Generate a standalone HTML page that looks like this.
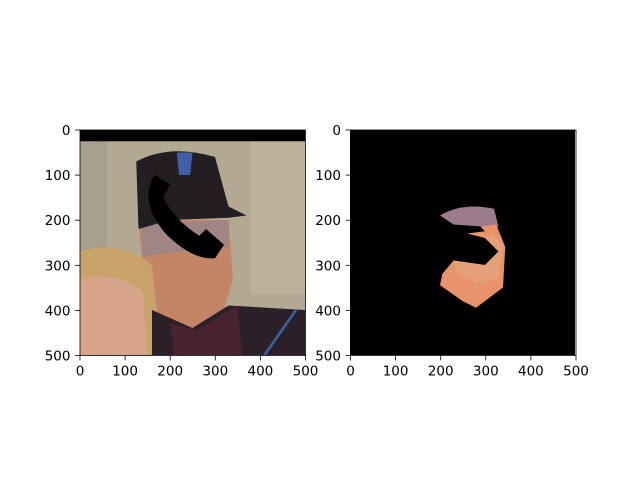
<!DOCTYPE html>
<html><head><meta charset="utf-8"><style>
body{margin:0;background:#fff;width:640px;height:480px;overflow:hidden}
svg{display:block}
text{font-family:"DejaVu Sans","Liberation Sans",sans-serif;font-size:13.5px;fill:#000}
</style></head><body>
<svg id="fig" width="640" height="480">
  <defs>
    <clipPath id="c1"><rect x="0" y="0" width="500" height="500"/></clipPath>
  </defs>
  <g transform="translate(80,130) scale(0.45)" clip-path="url(#c1)">
    <rect width="500" height="500" fill="#b3a993"/>
    <rect x="0" y="25" width="60" height="250" fill="#9a9585" opacity="0.5"/>
    <rect x="380" y="25" width="120" height="340" fill="#c4b89e" opacity="0.6"/>
    <rect width="500" height="25" fill="#000"/>
    <path d="M130,200 L330,200 L340,330 L320,400 L250,440 L170,420 L140,320 Z" fill="#c38566"/>
    <path d="M135,210 L330,200 L330,260 L140,280 Z" fill="#9f8583"/>
    <path d="M125,70 Q200,30 300,60 L330,170 L370,190 L330,195 L200,200 L130,220 Z" fill="#221e22"/>
    <path d="M215,50 L250,50 L245,100 L220,100 Z" fill="#3f5fa8"/>
    <path d="M0,270 Q90,240 160,300 L180,500 L0,500 Z" fill="#c9a46a"/>
    <path d="M0,330 Q80,310 140,360 L150,500 L0,500 Z" fill="#d6a488"/>
    <path d="M160,400 L250,440 L330,390 L500,400 L500,500 L160,500 Z" fill="#2b2027"/>
    <path d="M200,430 L260,445 L350,390 L360,500 L210,500 Z" fill="#4a2330"/>
    <path d="M480,400 L410,500" stroke="#3b5fa0" stroke-width="6"/>
    <path d="M165,100 Q130,160 190,230 Q250,290 300,285 L320,255 L280,220 L265,235 Q210,200 185,150 L200,120 Z" fill="#000"/>
  </g>
  <g transform="translate(350,130) scale(0.45)" clip-path="url(#c1)">
    <rect width="500" height="500" fill="#000"/>
    <path d="M200,190 Q250,160 320,175 L330,215 L300,215 L230,210 Z" fill="#9c7b8c"/>
    <path d="M290,215 L325,210 L345,260 L340,350 L300,380 L280,395 L250,380 L200,345 L205,320 L230,290 L300,300 L330,270 L300,240 L260,230 L300,225 Z" fill="#e9936b"/>
    <path d="M230,290 L300,300 L330,270 L300,240 L320,230 L340,260 L330,330 L280,340 L240,320 Z" fill="#e5a07a"/>
  </g>
  <g id="axes"></g>
</svg>
<script>
const ticks=[0,100,200,300,400,500];
const tickLabels=["0","100","200","300","400","500"];
const panels=[{x:80,y:130,name:"left"},{x:350.5,y:130,name:"right"}];
const size=225.5, domain=500;
const ns="http://www.w3.org/2000/svg";
const g=document.getElementById('axes');
function mk(t,a){const e=document.createElementNS(ns,t);for(const k in a)e.setAttribute(k,a[k]);return e;}
panels.forEach(p=>{
  const sx=v=>p.x+v/domain*size, sy=v=>p.y+v/domain*size;
  const fr=mk('rect',{x:p.x,y:p.y,width:size,height:size,fill:'none',stroke:'#000','stroke-width':0.8});
  
  
  g.appendChild(fr);
  ticks.forEach((t,i)=>{
    const x=sx(t), y=sy(t);
    const tx=mk('line',{x1:x,x2:x,y1:p.y+size,y2:p.y+size+4.9,stroke:'#000','stroke-width':0.8});
    
    
    g.appendChild(tx);
    const lx=mk('text',{x:x,y:p.y+size+20,'text-anchor':'middle'});lx.textContent=tickLabels[i];
    
    
    g.appendChild(lx);
    const ty=mk('line',{x1:p.x-4.9,x2:p.x,y1:y,y2:y,stroke:'#000','stroke-width':0.8});
    
    
    g.appendChild(ty);
    const ly=mk('text',{x:p.x-9.5,y:y+5,'text-anchor':'end'});ly.textContent=tickLabels[i];
    
    
    g.appendChild(ly);
  });
});
</script>
</body></html>
